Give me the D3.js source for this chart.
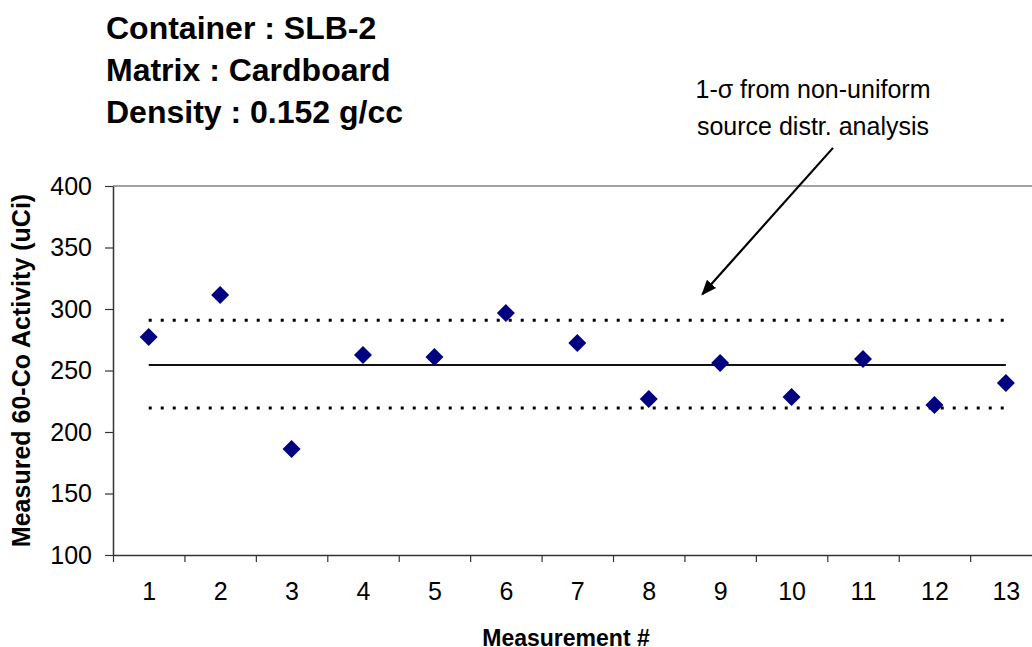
<!DOCTYPE html>
<html>
<head>
<meta charset="utf-8">
<script src="https://cdn.jsdelivr.net/npm/d3@7"></script>
<style>
  html, body { margin: 0; padding: 0; background: #fff; }
  svg { display: block; font-family: Arial, "Liberation Sans", sans-serif; }
</style>
</head>
<body>
<div id="chart"></div>
<script>
// measurement numbers and measured activity (uCi)
var measurements = [1, 2, 3, 4, 5, 6, 7, 8, 9, 10, 11, 12, 13];
var activity = [277.2, 311.4, 186.2, 262.6, 261.0, 296.7, 272.4, 226.8, 256.1, 228.5, 259.3, 221.9, 239.8];
// mean and 1-sigma band
var meanLine = [254.5];
var sigmaLines = [290.8, 219.5];
var yTicks = [100, 150, 200, 250, 300, 350, 400];
var titleLines = ["Container : SLB-2", "Matrix : Cardboard", "Density : 0.152 g/cc"];
var noteLines = ["1-\u03c3 from non-uniform", "source distr. analysis"];

var width = 1032, height = 647;
var plotLeft = 113, plotTop = 186, plotBottom = 555;
var step = 71.43;

var svg = d3.select("#chart").append("svg")
  .attr("width", width)
  .attr("height", height);

var x = d3.scaleLinear()
  .domain([0.5, measurements.length + 0.5])
  .range([plotLeft, plotLeft + step * measurements.length]);
var y = d3.scaleLinear().domain([100, 400]).range([plotBottom, plotTop]);

// top border of plot area
svg.append("line")
  .attr("x1", plotLeft).attr("x2", x.range()[1])
  .attr("y1", plotTop).attr("y2", plotTop)
  .attr("stroke", "#808080").attr("stroke-width", 1.5);

// y axis
var yAxis = svg.append("g")
  .attr("transform", "translate(" + plotLeft + ",0)")
  .call(d3.axisLeft(y).tickValues(yTicks).tickSize(8).tickPadding(13).tickSizeOuter(0));
yAxis.select(".domain").attr("stroke", "#333").attr("stroke-width", 1.5);
yAxis.selectAll(".tick line").attr("stroke", "#333").attr("stroke-width", 1.2);
yAxis.selectAll("text").attr("font-size", 25).attr("fill", "#000");

// x axis: ticks between categories, labels at centres
var xTickAxis = svg.append("g")
  .attr("transform", "translate(0," + plotBottom + ")")
  .call(d3.axisBottom(x)
    .tickValues(d3.range(0.5, measurements.length + 0.6, 1))
    .tickSize(7).tickSizeOuter(0).tickFormat(""));
xTickAxis.select(".domain").attr("stroke", "#333").attr("stroke-width", 1.5);
xTickAxis.selectAll(".tick line").attr("stroke", "#333").attr("stroke-width", 1.2);

var xLabelAxis = svg.append("g")
  .attr("transform", "translate(0," + plotBottom + ")")
  .call(d3.axisBottom(x).tickValues(measurements).tickSize(0).tickPadding(27).tickFormat(d3.format("d")));
xLabelAxis.select(".domain").remove();
xLabelAxis.selectAll("text").attr("font-size", 25).attr("fill", "#000");

// mean line
var first = measurements[0], last = measurements[measurements.length - 1];
svg.selectAll(".mean").data(meanLine).enter().append("line")
  .attr("x1", x(first)).attr("x2", x(last))
  .attr("y1", function (d) { return y(d); })
  .attr("y2", function (d) { return y(d); })
  .attr("stroke", "#111").attr("stroke-width", 2);

// 1-sigma lines
svg.selectAll(".sigma").data(sigmaLines).enter().append("line")
  .attr("x1", x(first)).attr("x2", x(last))
  .attr("y1", function (d) { return y(d); })
  .attr("y2", function (d) { return y(d); })
  .attr("stroke", "#000").attr("stroke-width", 3)
  .attr("stroke-dasharray", "3,9");

// data points as diamonds
svg.selectAll(".pt").data(activity).enter().append("path")
  .attr("d", "M0,-9L9,0L0,9L-9,0Z")
  .attr("transform", function (d, i) {
    return "translate(" + x(measurements[i]) + "," + y(d) + ")";
  })
  .attr("fill", "#000080");

// titles
svg.selectAll(".title").data(titleLines).enter().append("text")
  .attr("x", 106)
  .attr("y", function (d, i) { return 39 + i * 42; })
  .attr("font-size", 32).attr("font-weight", "bold")
  .text(function (d) { return d; });

// annotation
svg.selectAll(".note").data(noteLines).enter().append("text")
  .attr("x", 813)
  .attr("y", function (d, i) { return 98 + i * 37; })
  .attr("text-anchor", "middle")
  .attr("font-size", 25)
  .text(function (d) { return d; });

svg.append("defs").append("marker")
  .attr("id", "arrow")
  .attr("viewBox", "0 0 10 10")
  .attr("refX", 9).attr("refY", 5)
  .attr("markerWidth", 7).attr("markerHeight", 7)
  .attr("orient", "auto")
  .append("path").attr("d", "M0,1L10,5L0,9Z").attr("fill", "#000");

svg.append("line")
  .attr("x1", x(10.58)).attr("y1", y(431))
  .attr("x2", x(8.75)).attr("y2", y(312))
  .attr("stroke", "#000").attr("stroke-width", 2.2)
  .attr("marker-end", "url(#arrow)");

// axis titles
svg.append("text")
  .attr("transform", "translate(30," + ((plotTop + plotBottom) / 2) + ") rotate(-90)")
  .attr("text-anchor", "middle")
  .attr("font-size", 25).attr("font-weight", "bold")
  .text("Measured 60-Co Activity (uCi)");

svg.append("text")
  .attr("x", 566).attr("y", 646)
  .attr("text-anchor", "middle")
  .attr("font-size", 23).attr("font-weight", "bold")
  .text("Measurement #");
</script>
</body>
</html>
